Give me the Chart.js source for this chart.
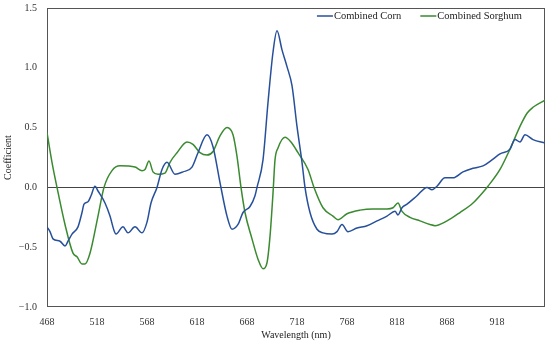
<!DOCTYPE html>
<html><head><meta charset="utf-8">
<script src="https://cdn.jsdelivr.net/npm/chart.js@4.4.0/dist/chart.umd.min.js"></script>
<style>html,body{margin:0;padding:0;background:#fff}</style>
</head><body>
<canvas id="c" width="550" height="345"></canvas>
<script>
const seriesNames = ['Combined Corn', 'Combined Sorghum'];
const cornWavelength = [468,471,474,481,486,489,493,499,503,505,509,512,516,519,526,531,535,537,544,549,556,563,568,572,578,583,588,596,604,613,619,628,634,641,648,653,659,664,671,676,678,684,689,694,698,703,708,713,718,723,726,731,738,744,753,758,763,769,778,788,798,808,816,819,823,828,838,848,853,858,866,874,884,894,904,913,921,931,936,941,946,954,966];
const cornCoefficient = [-0.33,-0.37,-0.43,-0.45,-0.49,-0.45,-0.39,-0.33,-0.21,-0.14,-0.12,-0.07,0.01,-0.03,-0.13,-0.24,-0.36,-0.39,-0.33,-0.38,-0.33,-0.38,-0.29,-0.13,0.00,0.15,0.21,0.11,0.13,0.17,0.29,0.44,0.34,0.04,-0.24,-0.35,-0.31,-0.21,-0.16,-0.07,0.00,0.23,0.71,1.13,1.31,1.15,1.01,0.85,0.51,0.21,0.00,-0.21,-0.35,-0.38,-0.39,-0.37,-0.31,-0.37,-0.34,-0.32,-0.28,-0.24,-0.20,-0.23,-0.17,-0.14,-0.07,0.00,-0.02,0.01,0.08,0.08,0.13,0.16,0.18,0.23,0.28,0.32,0.40,0.38,0.44,0.40,0.37];
const sorghumWavelength = [468,473,478,486,494,498,503,506,511,519,525,533,541,556,563,566,570,574,579,586,591,598,608,614,621,628,634,641,648,654,658,662,666,673,679,684,688,691,694,696,699,706,712,719,729,735,744,754,759,768,781,794,808,814,819,823,831,841,851,856,868,881,894,904,909,921,931,941,948,954,966];
const sorghumCoefficient = [0.46,0.21,0.00,-0.31,-0.55,-0.58,-0.64,-0.64,-0.55,-0.24,0.00,0.14,0.18,0.17,0.14,0.15,0.22,0.13,0.11,0.12,0.21,0.29,0.38,0.36,0.29,0.27,0.30,0.43,0.50,0.44,0.26,0.00,-0.21,-0.43,-0.60,-0.68,-0.63,-0.41,-0.05,0.23,0.33,0.42,0.38,0.29,0.15,0.00,-0.17,-0.24,-0.27,-0.22,-0.19,-0.18,-0.18,-0.17,-0.13,-0.20,-0.25,-0.28,-0.31,-0.32,-0.28,-0.21,-0.13,-0.04,0.01,0.15,0.32,0.51,0.62,0.67,0.73];
const xTickValues = [468,518,568,618,668,718,768,818,868,918];
const yTickValues = [-1.0,-0.5,0.0,0.5,1.0,1.5];
const yTickLabels = ['\u22121.0','\u22120.5','0.0','0.5','1.0','1.5'];

const colors = ['#27509b', '#3a8a30'];
const fontFamily = "'Liberation Serif', 'DejaVu Serif', serif";
const font = {family: fontFamily, size: 10};

const toPoints = (xs, ys) => xs.map((x, i) => ({x: x, y: ys[i]}));

const framePlugin = {
  id: 'frame',
  beforeDatasetsDraw(chart) {
    const a = chart.chartArea, ctx = chart.ctx;
    ctx.save();
    ctx.strokeStyle = '#555555';
    ctx.lineWidth = 1;
    ctx.strokeRect(Math.round(a.left) + 0.5, Math.round(a.top) + 0.5, Math.round(a.right - a.left) - 1, Math.round(a.bottom - a.top) - 1);
    ctx.restore();
  },
  afterDatasetsDraw(chart) {
    // legend inside the plot, top right
    const a = chart.chartArea, ctx = chart.ctx;
    ctx.save();
    ctx.font = '10.5px ' + fontFamily;
    ctx.textBaseline = 'middle';
    ctx.textAlign = 'left';
    const lineLen = 16, gap = 1, itemGap = 19;
    const ds = chart.data.datasets;
    const widths = ds.map(d => lineLen + gap + ctx.measureText(d.label).width);
    const total = widths.reduce((s, w) => s + w, 0) + itemGap * (ds.length - 1);
    let x = a.right - 23 - total;
    const y = a.top + 8;
    ds.forEach((d, i) => {
      ctx.strokeStyle = d.borderColor;
      ctx.lineWidth = 1.5;
      ctx.beginPath();
      ctx.moveTo(x, y);
      ctx.lineTo(x + lineLen, y);
      ctx.stroke();
      ctx.fillStyle = '#222';
      ctx.fillText(d.label, x + lineLen + gap, y + 0.5);
      x += widths[i] + itemGap;
    });
    ctx.restore();
  }
};

new Chart(document.getElementById('c'), {
  type: 'line',
  data: {
    datasets: [
      {label: seriesNames[0], data: toPoints(cornWavelength, cornCoefficient), borderColor: colors[0], backgroundColor: colors[0], borderWidth: 1.5, pointRadius: 0, cubicInterpolationMode: 'monotone', fill: false},
      {label: seriesNames[1], data: toPoints(sorghumWavelength, sorghumCoefficient), borderColor: colors[1], backgroundColor: colors[1], borderWidth: 1.5, pointRadius: 0, cubicInterpolationMode: 'monotone', fill: false}
    ]
  },
  options: {
    responsive: false,
    animation: false,
    devicePixelRatio: 1,
    layout: {padding: {left: 0, right: 5, top: 8, bottom: 3}},
    plugins: {
      legend: {display: false},
      tooltip: {enabled: false}
    },
    scales: {
      x: {
        type: 'linear',
        min: 468, max: 966,
        afterBuildTicks: (s) => { s.ticks = xTickValues.map(v => ({value: v})); },
        afterFit: (s) => { s.height = 35; s.paddingLeft = 0; s.paddingRight = 0; },
        grid: {display: false, drawTicks: false},
        border: {display: false},
        ticks: {color: '#333', font: font, padding: 9, maxRotation: 0, autoSkip: false, callback: (v) => String(v)},
        title: {display: true, text: 'Wavelength (nm)', color: '#222', font: font, padding: {top: 2, bottom: 1}}
      },
      y: {
        type: 'linear',
        min: -1.0, max: 1.5,
        afterBuildTicks: (s) => { s.ticks = yTickValues.map(v => ({value: v})); },
        afterFit: (s) => { s.width = 47; s.paddingTop = 0; s.paddingBottom = 0; },
        grid: {drawTicks: false, color: (c) => (c.tick && c.tick.value === 0 ? '#444444' : 'rgba(0,0,0,0)'), lineWidth: 1},
        border: {display: false},
        ticks: {color: '#333', font: font, padding: 10, autoSkip: false, callback: (v) => yTickLabels[yTickValues.indexOf(v)]},
        title: {display: true, text: 'Coefficient', color: '#222', font: font, padding: {top: 2, bottom: 5}}
      }
    }
  },
  plugins: [framePlugin]
});
</script>
</body></html>
